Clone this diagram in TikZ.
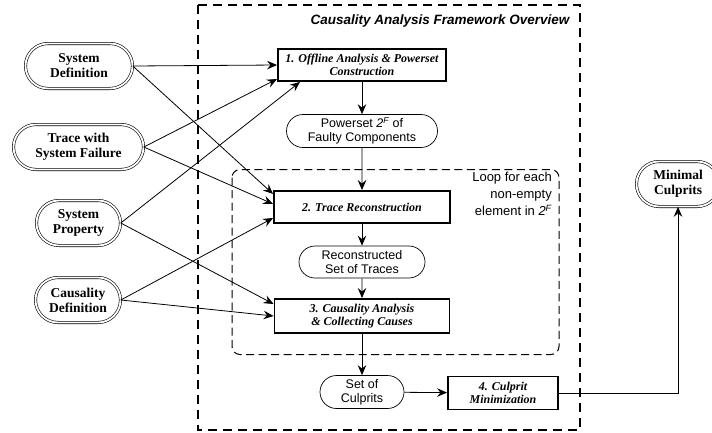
\documentclass[tikz,border=0pt]{standalone}
\usepackage{fontspec}
\setmainfont{Liberation Serif}
\setsansfont{Liberation Sans}
\usetikzlibrary{arrows.meta, calc, positioning, shapes.misc}
\tikzset{term/.style = {rounded rectangle, draw, double, double distance=1.8pt, line width=0.6pt, align=center, minimum height=45pt, inner sep=2pt, font=\bfseries\fontsize{13.5}{15}\selectfont}}
\tikzset{proc/.style = {rectangle, draw, line width=1.9pt, align=center, inner sep=2pt, font=\bfseries\itshape\fontsize{12}{13.5}\selectfont}}
\tikzset{data/.style = {rounded rectangle, draw, line width=0.7pt, align=center, inner sep=2pt, font=\sffamily\fontsize{12.5}{14}\selectfont}}
\tikzset{arr/.style = {-{Stealth[length=10pt, width=8.5pt, inset=3.5pt]}, line width=0.8pt}}

\begin{document}
\begin{tikzpicture}[x=1pt, y=-1pt]
\useasboundingbox (0,0) rectangle (712,432);
\draw[line width=1.6pt, dash pattern=on 9pt off 6pt] (198,5) rectangle (580,430);
\node[anchor=east, font=\sffamily\bfseries\itshape\fontsize{13.5}{16}\selectfont] (title) at (573,21) {Causality Analysis Framework Overview};
\draw[line width=1pt, dash pattern=on 8pt off 4.5pt, rounded corners=8pt] (232,169.5) rectangle (559,354.5);
\node[anchor=north east, align=right, inner sep=0pt, font=\sffamily\fontsize{13}{17}\selectfont] (loop) at (552,172) {Loop for each\\non-empty\\element in {\itshape 2\textsuperscript{F}}};

\node[term, minimum width=111pt] (sysdef) at (79,66) {System\\Definition};
\node[term, minimum width=134pt] (trace) at (78.5,147) {Trace with\\System Failure};
\node[term, minimum width=88pt] (sysprop) at (78.5,223) {System\\Property};
\node[term, minimum width=89pt] (causdef) at (78,300) {Causality\\Definition};
\node[term, minimum width=87pt] (minimal) at (678,184) {Minimal\\Culprits};

\node[proc, minimum width=168pt, minimum height=32pt] (box1) at (362,65) {1. Offline Analysis \& Powerset\\Construction};
\node[data, minimum width=155pt, minimum height=33pt] (powerset) at (362,131) {Powerset {\itshape 2\textsuperscript{F}} of\\Faulty Components};
\node[proc, minimum width=176pt, minimum height=32pt] (box2) at (362,207) {2. Trace Reconstruction};
\node[data, minimum width=130pt, minimum height=32pt] (recon) at (362,262) {Reconstructed\\Set of Traces};
\node[proc, minimum width=175pt, minimum height=34pt] (box3) at (362,316) {3. Causality Analysis\\\& Collecting Causes};
\node[data, minimum width=88pt, minimum height=33pt] (culprits) at (362,392) {Set of\\Culprits};
\node[proc, minimum width=110pt, minimum height=33pt] (box4) at (503,393) {4. Culprit\\Minimization};

\draw[arr] (sysdef.east) -- (box1.west);
\draw[arr] (sysdef.east) -- ([yshift=13pt]box2.west);
\draw[arr] (trace.east) -- ([yshift=-14pt]box1.west);
\draw[arr] (trace.east) -- ([yshift=3pt]box2.west);
\draw[arr] (sysprop.east) -- ([xshift=-62pt]box1.south);
\draw[arr] (sysprop.east) -- ([yshift=12pt]box3.west);
\draw[arr] (causdef.east) -- ([yshift=-11pt]box2.west);
\draw[arr] (causdef.east) -- (box3.west);

\draw[arr] (box1) -- (powerset);
\draw[arr] (powerset) -- (box2);
\draw[arr] (box2) -- (recon);
\draw[arr] (recon) -- (box3);
\draw[arr] (box3) -- (culprits);
\draw[arr] (culprits) -- (box4);
\draw[arr] (box4.east) -| (minimal.south);
\end{tikzpicture}
\end{document}
